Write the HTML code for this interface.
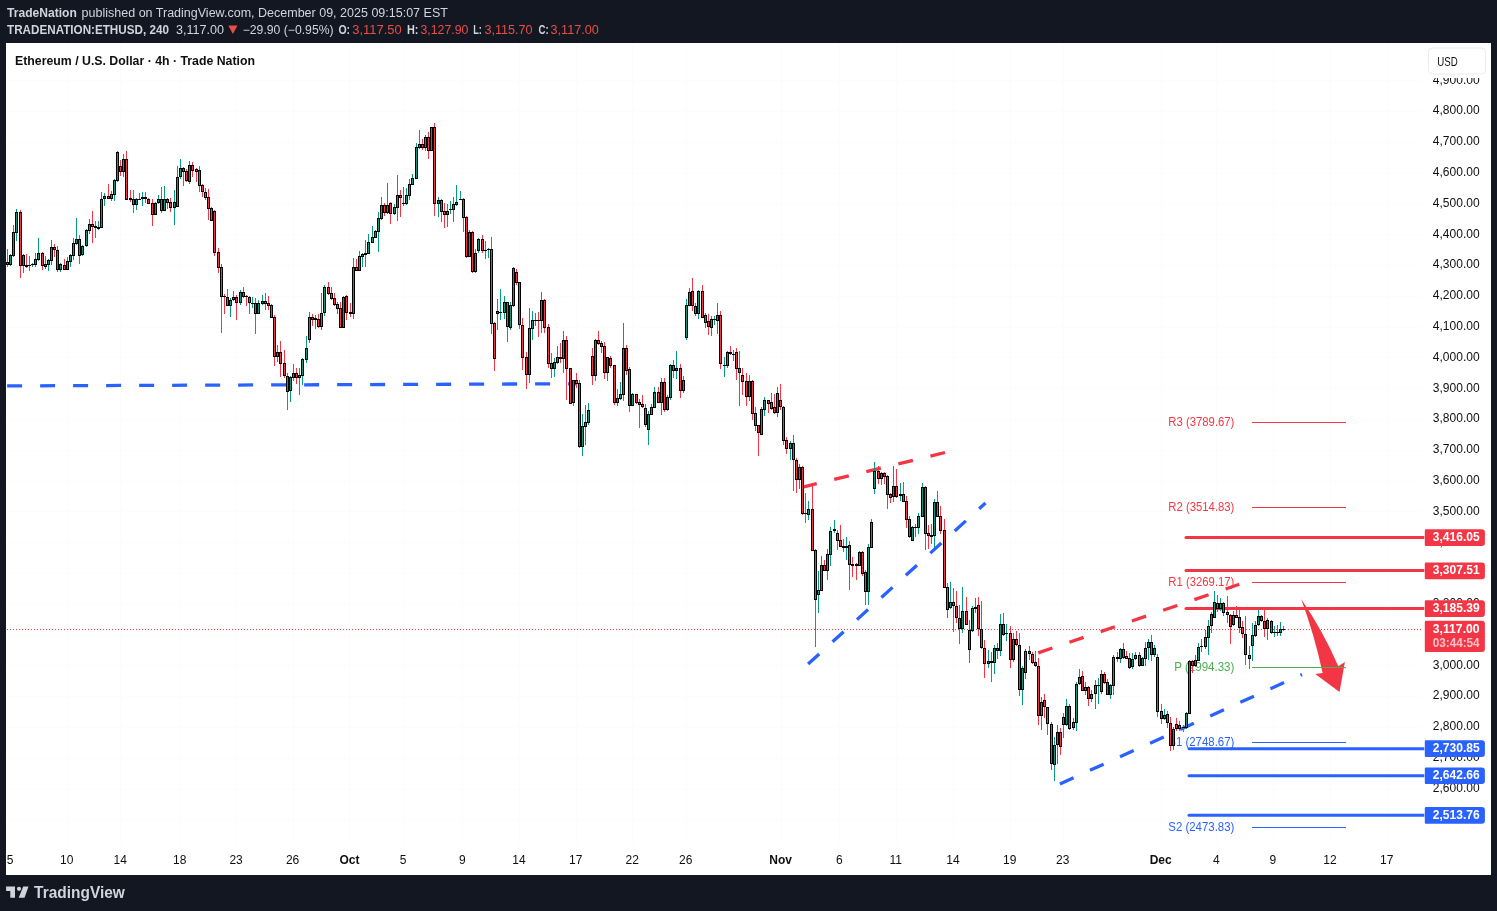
<!DOCTYPE html>
<html><head><meta charset="utf-8"><title>ETHUSD chart</title>
<style>
html,body{margin:0;padding:0;background:#131722;}
body{width:1497px;height:911px;overflow:hidden;position:relative;font-family:"Liberation Sans", Arial, sans-serif;}
svg{position:absolute;left:0;top:0;display:block;}
#root{will-change:transform;transform:translateZ(0);}
text{font-family:"Liberation Sans", Arial, sans-serif;}
</style></head><body>
<svg id="root" width="1497" height="911" viewBox="0 0 1497 911">
<rect x="0" y="0" width="1497" height="911" fill="#131722"/>
<rect x="6" y="43" width="1485" height="832" fill="#fff"/>
<svg x="6" y="43" width="1485" height="832" viewBox="6 43 1485 832" overflow="hidden">
<path d="M67 43v800M120 43v800M180 43v800M236 43v800M293 43v800M349 43v800M403 43v800M462 43v800M519 43v800M576 43v800M632 43v800M686 43v800M781 43v800M839 43v800M896 43v800M953 43v800M1010 43v800M1063 43v800M1161 43v800M1216 43v800M1273 43v800M1330 43v800M1387 43v800M6 819h1415M6 789h1415M6 758h1415M6 727h1415M6 696h1415M6 665h1415M6 635h1415M6 604h1415M6 573h1415M6 542h1415M6 511h1415M6 481h1415M6 450h1415M6 419h1415M6 388h1415M6 357h1415M6 327h1415M6 296h1415M6 265h1415M6 234h1415M6 203h1415M6 173h1415M6 142h1415M6 111h1415M6 80h1415" stroke="#fbfcfd" stroke-width="1" fill="none" shape-rendering="crispEdges"/><line x1="7" y1="629.5" x2="1423" y2="629.5" stroke="#f23645" stroke-width="1" stroke-dasharray="1 2"/><line x1="7.13" y1="385.9" x2="576" y2="383.76" stroke="#2962ff" stroke-width="3.3" stroke-dasharray="15 18" stroke-dashoffset="0"/><line x1="803.9" y1="486.8" x2="945" y2="452.5" stroke="#f23645" stroke-width="3.3" stroke-dasharray="15 18" stroke-dashoffset="1.8"/><line x1="808.1" y1="664" x2="985.5" y2="503" stroke="#2962ff" stroke-width="3.3" stroke-dasharray="15 18" stroke-dashoffset="0"/><line x1="1038.2" y1="652.9" x2="1239.3" y2="584.3" stroke="#f23645" stroke-width="3.3" stroke-dasharray="15 18" stroke-dashoffset="0"/><line x1="1059.9" y1="783.9" x2="1302" y2="674.5" stroke="#2962ff" stroke-width="3.3" stroke-dasharray="15 18" stroke-dashoffset="0"/><path d="M1186 536.00H1424.3V539.00H1186A1.5 1.5 0 0 1 1186 536.00Z" fill="#f23645"/><path d="M1186 568.90H1424.3V571.90H1186A1.5 1.5 0 0 1 1186 568.90Z" fill="#f23645"/><path d="M1186 606.90H1424.3V609.90H1186A1.5 1.5 0 0 1 1186 606.90Z" fill="#f23645"/><path d="M1189 747.30H1424.3V750.30H1189A1.5 1.5 0 0 1 1189 747.30Z" fill="#2962ff"/><path d="M1189 774.20H1424.3V777.20H1189A1.5 1.5 0 0 1 1189 774.20Z" fill="#2962ff"/><path d="M1189 813.70H1424.3V816.70H1189A1.5 1.5 0 0 1 1189 813.70Z" fill="#2962ff"/><path d="M1301.2 599 Q1323.8 632.2 1338.3 666.3 L1344.9 662 L1339.5 692 L1315.3 674.1 L1322.6 673 Q1314.7 635.9 1301.2 599Z" fill="#f23645"/><rect x="1252" y="422" width="94" height="1" fill="#f23645"/><text x="1168.3" y="426.4" font-size="12.5" font-weight="normal" fill="#f23645" text-anchor="start" textLength="66.1" lengthAdjust="spacingAndGlyphs">R3 (3789.67)</text><rect x="1252" y="507" width="94" height="1" fill="#f23645"/><text x="1168.3" y="511.4" font-size="12.5" font-weight="normal" fill="#f23645" text-anchor="start" textLength="66.1" lengthAdjust="spacingAndGlyphs">R2 (3514.83)</text><rect x="1252" y="582" width="94" height="1" fill="#f23645"/><text x="1168.3" y="586.4" font-size="12.5" font-weight="normal" fill="#f23645" text-anchor="start" textLength="66.1" lengthAdjust="spacingAndGlyphs">R1 (3269.17)</text><rect x="1252" y="667" width="94" height="1" fill="#4caf50"/><text x="1174.3" y="671.4" font-size="12.5" font-weight="normal" fill="#4caf50" text-anchor="start" textLength="60.1" lengthAdjust="spacingAndGlyphs">P (2994.33)</text><rect x="1252" y="742" width="94" height="1" fill="#2962ff"/><text x="1168.3" y="746.4" font-size="12.5" font-weight="normal" fill="#2962ff" text-anchor="start" textLength="66.1" lengthAdjust="spacingAndGlyphs">S1 (2748.67)</text><rect x="1252" y="827" width="94" height="1" fill="#2962ff"/><text x="1168.3" y="831.4" font-size="12.5" font-weight="normal" fill="#2962ff" text-anchor="start" textLength="66.1" lengthAdjust="spacingAndGlyphs">S2 (2473.83)</text><g shape-rendering="crispEdges"><path d="M10 254h1V266h-1zM13 225h1V257h-1zM16 209h1V241h-1zM23 254h1V273h-1zM32 263h1V267h-1zM35 253h1V267h-1zM38 238h1V261h-1zM45 256h1V269h-1zM48 259h1V271h-1zM51 240h1V265h-1zM60 263h1V272h-1zM67 257h1V270h-1zM70 254h1V267h-1zM73 238h1V260h-1zM76 218h1V245h-1zM82 245h1V256h-1zM86 229h1V247h-1zM89 219h1V234h-1zM98 221h1V230h-1zM101 192h1V228h-1zM104 193h1V206h-1zM111 191h1V201h-1zM114 179h1V201h-1zM117 151h1V182h-1zM123 154h1V177h-1zM136 198h1V210h-1zM139 193h1V200h-1zM142 192h1V206h-1zM155 202h1V215h-1zM158 195h1V204h-1zM164 186h1V211h-1zM174 190h1V225h-1zM177 166h1V207h-1zM180 159h1V179h-1zM189 161h1V184h-1zM230 298h1V317h-1zM233 291h1V301h-1zM240 290h1V305h-1zM252 297h1V308h-1zM258 300h1V314h-1zM262 295h1V305h-1zM277 345h1V362h-1zM290 376h1V402h-1zM293 364h1V381h-1zM299 368h1V395h-1zM302 358h1V385h-1zM306 336h1V363h-1zM309 312h1V343h-1zM315 315h1V329h-1zM321 293h1V330h-1zM324 285h1V316h-1zM343 296h1V328h-1zM353 258h1V319h-1zM359 251h1V271h-1zM362 253h1V267h-1zM365 240h1V267h-1zM368 234h1V254h-1zM372 226h1V243h-1zM375 230h1V238h-1zM378 212h1V252h-1zM381 197h1V220h-1zM387 183h1V214h-1zM394 204h1V215h-1zM397 175h1V221h-1zM403 187h1V206h-1zM406 188h1V205h-1zM409 179h1V200h-1zM412 174h1V185h-1zM416 143h1V179h-1zM419 130h1V149h-1zM425 135h1V151h-1zM431 127h1V151h-1zM438 197h1V217h-1zM447 204h1V227h-1zM450 201h1V214h-1zM453 197h1V222h-1zM456 185h1V206h-1zM460 191h1V200h-1zM469 230h1V257h-1zM475 249h1V273h-1zM478 238h1V253h-1zM485 241h1V259h-1zM488 248h1V258h-1zM500 289h1V320h-1zM504 296h1V319h-1zM510 302h1V330h-1zM513 267h1V307h-1zM529 308h1V383h-1zM532 311h1V340h-1zM535 313h1V326h-1zM541 292h1V333h-1zM554 358h1V377h-1zM557 346h1V364h-1zM563 331h1V373h-1zM573 380h1V406h-1zM582 414h1V456h-1zM585 405h1V445h-1zM588 403h1V425h-1zM595 339h1V381h-1zM607 357h1V381h-1zM617 389h1V406h-1zM620 382h1V400h-1zM623 323h1V401h-1zM632 393h1V406h-1zM648 411h1V445h-1zM651 404h1V415h-1zM654 387h1V408h-1zM661 378h1V415h-1zM667 395h1V411h-1zM670 364h1V400h-1zM676 351h1V379h-1zM683 376h1V393h-1zM686 299h1V340h-1zM689 288h1V306h-1zM698 290h1V319h-1zM711 316h1V336h-1zM714 316h1V325h-1zM717 303h1V334h-1zM724 357h1V377h-1zM727 351h1V368h-1zM733 350h1V361h-1zM749 375h1V401h-1zM761 407h1V435h-1zM764 397h1V416h-1zM777 387h1V417h-1zM790 441h1V460h-1zM799 464h1V489h-1zM808 501h1V520h-1zM818 571h1V613h-1zM821 556h1V591h-1zM827 549h1V580h-1zM830 527h1V566h-1zM834 520h1V533h-1zM846 537h1V560h-1zM859 551h1V566h-1zM868 544h1V605h-1zM871 519h1V548h-1zM874 462h1V494h-1zM881 472h1V485h-1zM893 466h1V502h-1zM900 483h1V501h-1zM912 526h1V541h-1zM915 524h1V537h-1zM918 513h1V534h-1zM922 483h1V517h-1zM931 524h1V544h-1zM934 499h1V548h-1zM950 582h1V609h-1zM962 587h1V633h-1zM969 620h1V663h-1zM972 606h1V632h-1zM975 598h1V613h-1zM988 650h1V668h-1zM994 645h1V674h-1zM1000 614h1V656h-1zM1006 624h1V641h-1zM1013 633h1V662h-1zM1022 666h1V705h-1zM1025 649h1V679h-1zM1041 697h1V730h-1zM1054 737h1V781h-1zM1057 725h1V764h-1zM1066 699h1V726h-1zM1073 718h1V730h-1zM1076 682h1V731h-1zM1079 669h1V685h-1zM1091 690h1V702h-1zM1095 680h1V709h-1zM1098 678h1V704h-1zM1101 670h1V694h-1zM1110 684h1V699h-1zM1113 655h1V695h-1zM1120 648h1V663h-1zM1132 653h1V669h-1zM1135 652h1V660h-1zM1142 657h1V666h-1zM1145 642h1V666h-1zM1148 639h1V660h-1zM1154 645h1V657h-1zM1164 709h1V720h-1zM1173 727h1V750h-1zM1186 712h1V729h-1zM1189 660h1V714h-1zM1195 655h1V667h-1zM1198 643h1V661h-1zM1201 639h1V652h-1zM1205 630h1V649h-1zM1208 620h1V655h-1zM1211 612h1V633h-1zM1214 591h1V618h-1zM1220 598h1V611h-1zM1233 611h1V626h-1zM1252 623h1V661h-1zM1255 621h1V637h-1zM1258 610h1V626h-1zM1267 618h1V640h-1zM1274 626h1V637h-1zM1277 625h1V636h-1zM1280 622h1V636h-1z" fill="#089981"/><path d="M7 249h1V267h-1zM20 210h1V278h-1zM26 254h1V268h-1zM29 256h1V271h-1zM42 252h1V270h-1zM54 244h1V257h-1zM57 246h1V272h-1zM64 259h1V270h-1zM79 235h1V264h-1zM92 211h1V243h-1zM95 221h1V238h-1zM108 184h1V199h-1zM120 160h1V176h-1zM126 151h1V200h-1zM130 190h1V202h-1zM133 190h1V213h-1zM145 192h1V203h-1zM148 198h1V204h-1zM152 199h1V226h-1zM161 187h1V213h-1zM167 198h1V209h-1zM170 198h1V212h-1zM183 167h1V186h-1zM186 169h1V182h-1zM192 162h1V177h-1zM196 168h1V182h-1zM199 166h1V192h-1zM202 184h1V197h-1zM205 188h1V200h-1zM208 189h1V220h-1zM211 207h1V221h-1zM214 210h1V256h-1zM218 248h1V273h-1zM221 264h1V333h-1zM224 294h1V314h-1zM227 289h1V306h-1zM236 295h1V320h-1zM243 287h1V298h-1zM246 295h1V306h-1zM249 296h1V314h-1zM255 298h1V334h-1zM265 293h1V310h-1zM268 296h1V310h-1zM271 304h1V318h-1zM274 315h1V366h-1zM280 341h1V377h-1zM284 350h1V378h-1zM287 373h1V410h-1zM296 368h1V384h-1zM312 314h1V326h-1zM318 314h1V328h-1zM328 282h1V295h-1zM331 287h1V300h-1zM334 293h1V306h-1zM337 302h1V314h-1zM340 302h1V328h-1zM346 295h1V320h-1zM350 303h1V317h-1zM356 259h1V271h-1zM384 203h1V216h-1zM390 202h1V224h-1zM400 190h1V217h-1zM422 139h1V150h-1zM428 132h1V159h-1zM434 123h1V216h-1zM441 199h1V222h-1zM444 203h1V228h-1zM463 198h1V232h-1zM466 216h1V258h-1zM472 231h1V273h-1zM482 235h1V253h-1zM491 237h1V334h-1zM494 322h1V371h-1zM497 299h1V330h-1zM507 302h1V342h-1zM516 269h1V285h-1zM519 282h1V329h-1zM522 318h1V370h-1zM526 352h1V389h-1zM538 312h1V337h-1zM544 299h1V333h-1zM548 324h1V368h-1zM551 353h1V378h-1zM560 343h1V363h-1zM566 336h1V400h-1zM570 368h1V404h-1zM576 373h1V388h-1zM579 380h1V448h-1zM592 348h1V385h-1zM598 331h1V345h-1zM601 341h1V353h-1zM604 342h1V379h-1zM610 356h1V368h-1zM614 365h1V405h-1zM626 345h1V375h-1zM629 367h1V412h-1zM636 394h1V404h-1zM639 399h1V428h-1zM642 395h1V408h-1zM645 404h1V427h-1zM658 387h1V403h-1zM664 378h1V412h-1zM673 360h1V378h-1zM680 364h1V398h-1zM692 278h1V311h-1zM695 303h1V316h-1zM702 285h1V318h-1zM705 313h1V328h-1zM708 314h1V335h-1zM720 311h1V369h-1zM730 346h1V355h-1zM736 348h1V380h-1zM739 351h1V406h-1zM742 368h1V395h-1zM746 373h1V406h-1zM752 380h1V420h-1zM755 407h1V431h-1zM758 425h1V456h-1zM768 400h1V413h-1zM771 393h1V410h-1zM774 394h1V414h-1zM780 384h1V410h-1zM783 406h1V445h-1zM786 437h1V454h-1zM793 435h1V491h-1zM796 458h1V493h-1zM802 466h1V515h-1zM805 493h1V523h-1zM812 485h1V551h-1zM815 549h1V647h-1zM824 560h1V571h-1zM837 530h1V550h-1zM840 525h1V547h-1zM843 539h1V552h-1zM849 541h1V590h-1zM852 557h1V577h-1zM856 563h1V580h-1zM862 551h1V576h-1zM865 570h1V605h-1zM878 466h1V484h-1zM884 472h1V484h-1zM887 475h1V509h-1zM890 493h1V503h-1zM896 469h1V498h-1zM903 482h1V502h-1zM906 496h1V528h-1zM909 516h1V538h-1zM925 486h1V550h-1zM928 525h1V549h-1zM937 491h1V517h-1zM940 506h1V534h-1zM944 519h1V588h-1zM947 583h1V618h-1zM953 588h1V632h-1zM956 591h1V623h-1zM959 605h1V644h-1zM966 597h1V625h-1zM978 597h1V636h-1zM981 601h1V649h-1zM984 640h1V678h-1zM991 652h1V682h-1zM997 643h1V659h-1zM1003 613h1V636h-1zM1010 626h1V668h-1zM1016 631h1V646h-1zM1019 633h1V696h-1zM1029 646h1V660h-1zM1032 652h1V664h-1zM1035 651h1V667h-1zM1038 658h1V725h-1zM1044 694h1V718h-1zM1047 707h1V735h-1zM1051 722h1V770h-1zM1060 728h1V755h-1zM1063 713h1V738h-1zM1069 704h1V730h-1zM1082 671h1V691h-1zM1085 682h1V695h-1zM1088 686h1V706h-1zM1104 672h1V684h-1zM1107 679h1V695h-1zM1117 652h1V662h-1zM1123 643h1V659h-1zM1126 651h1V659h-1zM1129 653h1V669h-1zM1139 652h1V667h-1zM1151 635h1V661h-1zM1157 654h1V717h-1zM1161 704h1V724h-1zM1167 711h1V728h-1zM1170 717h1V751h-1zM1176 718h1V731h-1zM1179 721h1V731h-1zM1183 725h1V732h-1zM1192 660h1V673h-1zM1217 595h1V612h-1zM1223 602h1V616h-1zM1227 596h1V623h-1zM1230 614h1V644h-1zM1236 606h1V618h-1zM1239 610h1V633h-1zM1242 621h1V638h-1zM1245 616h1V665h-1zM1249 646h1V669h-1zM1261 615h1V622h-1zM1264 610h1V637h-1zM1271 620h1V634h-1zM1283 626h1V631h-1z" fill="#f23645"/><path d="M6 262h3V265h-3zM9 255h3V265h-3zM12 232h3V256h-3zM15 212h3V233h-3zM19 212h3V266h-3zM22 255h3V266h-3zM25 265h3V267h-3zM28 265h3V266h-3zM31 264h3V265h-3zM34 259h3V265h-3zM37 253h3V260h-3zM41 253h3V266h-3zM44 264h3V267h-3zM47 260h3V265h-3zM50 247h3V261h-3zM53 247h3V250h-3zM56 250h3V270h-3zM59 264h3V270h-3zM63 265h3V270h-3zM66 261h3V270h-3zM69 255h3V262h-3zM72 243h3V256h-3zM75 239h3V244h-3zM78 239h3V256h-3zM81 246h3V255h-3zM85 230h3V246h-3zM88 224h3V231h-3zM91 224h3V227h-3zM94 226h3V228h-3zM97 227h3V229h-3zM100 199h3V228h-3zM103 196h3V199h-3zM107 196h3V199h-3zM110 194h3V199h-3zM113 180h3V195h-3zM116 152h3V181h-3zM119 166h3V172h-3zM122 159h3V172h-3zM125 159h3V200h-3zM129 198h3V200h-3zM132 199h3V205h-3zM135 199h3V205h-3zM138 199h3V200h-3zM141 197h3V199h-3zM144 197h3V199h-3zM147 199h3V204h-3zM151 203h3V215h-3zM154 203h3V215h-3zM157 199h3V203h-3zM160 199h3V211h-3zM163 199h3V211h-3zM166 199h3V203h-3zM169 202h3V208h-3zM173 202h3V208h-3zM176 177h3V207h-3zM179 168h3V177h-3zM182 168h3V172h-3zM185 171h3V181h-3zM188 165h3V182h-3zM191 165h3V171h-3zM195 169h3V172h-3zM198 170h3V186h-3zM201 185h3V192h-3zM204 192h3V198h-3zM207 197h3V209h-3zM210 208h3V221h-3zM213 211h3V253h-3zM217 252h3V268h-3zM220 267h3V297h-3zM223 296h3V297h-3zM226 297h3V306h-3zM229 300h3V306h-3zM232 297h3V300h-3zM235 297h3V303h-3zM239 292h3V303h-3zM242 292h3V297h-3zM245 296h3V297h-3zM248 297h3V303h-3zM251 303h3V304h-3zM254 303h3V314h-3zM257 303h3V314h-3zM261 301h3V304h-3zM264 301h3V304h-3zM267 303h3V306h-3zM270 305h3V318h-3zM273 317h3V357h-3zM276 352h3V357h-3zM279 352h3V364h-3zM283 363h3V376h-3zM286 376h3V392h-3zM289 377h3V391h-3zM292 373h3V378h-3zM295 373h3V378h-3zM298 375h3V378h-3zM301 359h3V376h-3zM305 348h3V360h-3zM308 317h3V340h-3zM311 317h3V320h-3zM314 318h3V320h-3zM317 319h3V327h-3zM320 313h3V327h-3zM323 287h3V313h-3zM327 287h3V294h-3zM330 293h3V299h-3zM333 298h3V305h-3zM336 304h3V309h-3zM339 308h3V328h-3zM342 297h3V328h-3zM345 296h3V313h-3zM349 312h3V314h-3zM352 267h3V314h-3zM355 267h3V271h-3zM358 256h3V271h-3zM361 254h3V257h-3zM364 253h3V255h-3zM367 242h3V254h-3zM371 237h3V243h-3zM374 231h3V238h-3zM377 218h3V232h-3zM380 205h3V219h-3zM383 205h3V213h-3zM386 205h3V213h-3zM389 203h3V214h-3zM393 207h3V214h-3zM396 195h3V208h-3zM399 195h3V198h-3zM402 203h3V204h-3zM405 195h3V204h-3zM408 184h3V196h-3zM411 178h3V185h-3zM415 147h3V179h-3zM418 144h3V148h-3zM421 144h3V148h-3zM424 137h3V148h-3zM427 137h3V151h-3zM430 127h3V151h-3zM433 127h3V204h-3zM437 200h3V204h-3zM440 200h3V212h-3zM443 211h3V215h-3zM446 211h3V215h-3zM449 209h3V210h-3zM452 204h3V210h-3zM455 202h3V205h-3zM459 199h3V200h-3zM462 199h3V218h-3zM465 217h3V257h-3zM468 232h3V257h-3zM471 232h3V272h-3zM474 253h3V272h-3zM477 239h3V251h-3zM481 239h3V251h-3zM484 250h3V251h-3zM487 249h3V250h-3zM490 249h3V324h-3zM493 323h3V359h-3zM496 311h3V314h-3zM499 312h3V313h-3zM503 302h3V313h-3zM506 302h3V327h-3zM509 305h3V328h-3zM512 268h3V306h-3zM515 272h3V283h-3zM518 282h3V325h-3zM521 325h3V358h-3zM525 357h3V375h-3zM528 328h3V375h-3zM531 320h3V329h-3zM534 320h3V321h-3zM537 320h3V321h-3zM540 300h3V321h-3zM543 300h3V328h-3zM547 327h3V364h-3zM550 363h3V369h-3zM553 362h3V369h-3zM556 357h3V363h-3zM559 357h3V359h-3zM562 340h3V359h-3zM565 340h3V369h-3zM569 368h3V404h-3zM572 380h3V403h-3zM575 380h3V384h-3zM578 383h3V447h-3zM581 426h3V447h-3zM584 422h3V427h-3zM587 410h3V423h-3zM591 356h3V376h-3zM594 340h3V376h-3zM597 340h3V344h-3zM600 343h3V347h-3zM603 346h3V373h-3zM606 357h3V373h-3zM609 358h3V366h-3zM613 365h3V403h-3zM616 398h3V403h-3zM619 394h3V399h-3zM622 348h3V395h-3zM625 348h3V371h-3zM628 369h3V406h-3zM631 394h3V406h-3zM635 394h3V403h-3zM638 402h3V405h-3zM641 404h3V407h-3zM644 408h3V425h-3zM647 414h3V430h-3zM650 407h3V415h-3zM653 392h3V408h-3zM657 392h3V403h-3zM660 382h3V403h-3zM663 382h3V410h-3zM666 397h3V410h-3zM669 365h3V398h-3zM672 365h3V371h-3zM675 368h3V371h-3zM679 368h3V391h-3zM682 380h3V391h-3zM685 305h3V338h-3zM688 292h3V306h-3zM691 291h3V306h-3zM694 306h3V314h-3zM697 291h3V314h-3zM701 291h3V318h-3zM704 315h3V323h-3zM707 321h3V327h-3zM710 319h3V328h-3zM713 319h3V320h-3zM716 315h3V321h-3zM719 315h3V364h-3zM723 365h3V366h-3zM726 352h3V366h-3zM729 352h3V354h-3zM732 354h3V355h-3zM735 352h3V369h-3zM738 368h3V373h-3zM741 375h3V382h-3zM745 381h3V397h-3zM748 381h3V397h-3zM751 381h3V414h-3zM754 413h3V426h-3zM757 425h3V433h-3zM760 409h3V435h-3zM763 400h3V410h-3zM767 400h3V404h-3zM770 402h3V409h-3zM773 407h3V413h-3zM776 393h3V413h-3zM779 400h3V407h-3zM782 407h3V441h-3zM785 440h3V449h-3zM789 443h3V449h-3zM792 443h3V460h-3zM795 460h3V480h-3zM798 467h3V480h-3zM801 467h3V514h-3zM804 513h3V514h-3zM807 509h3V515h-3zM811 509h3V551h-3zM814 550h3V600h-3zM817 590h3V595h-3zM820 565h3V591h-3zM823 565h3V571h-3zM826 554h3V571h-3zM829 531h3V555h-3zM833 529h3V531h-3zM836 533h3V541h-3zM839 540h3V547h-3zM842 546h3V548h-3zM845 546h3V548h-3zM848 545h3V565h-3zM851 564h3V566h-3zM855 564h3V566h-3zM858 552h3V566h-3zM861 552h3V574h-3zM864 572h3V592h-3zM867 547h3V592h-3zM870 522h3V548h-3zM873 471h3V489h-3zM877 471h3V479h-3zM880 473h3V479h-3zM883 473h3V477h-3zM886 476h3V495h-3zM889 494h3V498h-3zM892 486h3V497h-3zM895 486h3V497h-3zM899 494h3V496h-3zM902 494h3V502h-3zM905 501h3V520h-3zM908 519h3V537h-3zM911 527h3V541h-3zM914 527h3V528h-3zM917 516h3V528h-3zM921 487h3V517h-3zM924 487h3V534h-3zM927 533h3V536h-3zM930 535h3V537h-3zM933 502h3V536h-3zM936 502h3V517h-3zM939 516h3V531h-3zM943 530h3V588h-3zM946 587h3V610h-3zM949 602h3V608h-3zM952 602h3V606h-3zM955 606h3V618h-3zM958 618h3V629h-3zM961 611h3V629h-3zM965 611h3V625h-3zM968 630h3V650h-3zM971 608h3V631h-3zM974 607h3V609h-3zM977 605h3V629h-3zM980 629h3V648h-3zM983 648h3V664h-3zM987 661h3V664h-3zM990 661h3V663h-3zM993 648h3V663h-3zM996 648h3V651h-3zM999 624h3V651h-3zM1002 624h3V635h-3zM1005 633h3V634h-3zM1009 633h3V660h-3zM1012 639h3V660h-3zM1015 639h3V645h-3zM1018 645h3V690h-3zM1021 668h3V690h-3zM1024 651h3V673h-3zM1028 651h3V654h-3zM1031 654h3V663h-3zM1034 662h3V666h-3zM1037 666h3V716h-3zM1040 702h3V716h-3zM1043 700h3V707h-3zM1046 707h3V724h-3zM1050 724h3V764h-3zM1053 745h3V765h-3zM1056 732h3V745h-3zM1059 732h3V747h-3zM1062 717h3V725h-3zM1065 706h3V725h-3zM1068 706h3V729h-3zM1072 722h3V728h-3zM1075 684h3V723h-3zM1078 677h3V684h-3zM1081 676h3V691h-3zM1084 687h3V691h-3zM1087 687h3V699h-3zM1090 694h3V699h-3zM1094 685h3V694h-3zM1097 685h3V686h-3zM1100 674h3V692h-3zM1103 674h3V683h-3zM1106 682h3V695h-3zM1109 685h3V695h-3zM1112 657h3V686h-3zM1116 657h3V659h-3zM1119 649h3V659h-3zM1122 649h3V658h-3zM1125 656h3V659h-3zM1128 658h3V668h-3zM1131 659h3V667h-3zM1134 655h3V659h-3zM1138 655h3V666h-3zM1141 658h3V666h-3zM1144 648h3V659h-3zM1147 642h3V648h-3zM1150 642h3V655h-3zM1153 648h3V655h-3zM1156 657h3V712h-3zM1160 711h3V719h-3zM1163 715h3V719h-3zM1166 714h3V723h-3zM1169 723h3V746h-3zM1172 729h3V746h-3zM1175 724h3V729h-3zM1178 725h3V729h-3zM1182 727h3V728h-3zM1185 713h3V728h-3zM1188 661h3V714h-3zM1191 661h3V666h-3zM1194 660h3V666h-3zM1197 647h3V661h-3zM1200 646h3V647h-3zM1204 637h3V647h-3zM1207 626h3V638h-3zM1210 614h3V626h-3zM1213 602h3V618h-3zM1216 603h3V609h-3zM1219 603h3V609h-3zM1222 603h3V613h-3zM1226 612h3V615h-3zM1229 615h3V627h-3zM1232 615h3V625h-3zM1235 615h3V618h-3zM1238 617h3V628h-3zM1241 627h3V634h-3zM1244 634h3V655h-3zM1248 655h3V659h-3zM1251 635h3V646h-3zM1254 625h3V636h-3zM1257 616h3V625h-3zM1260 616h3V621h-3zM1263 621h3V629h-3zM1266 620h3V629h-3zM1270 621h3V633h-3zM1273 632h3V633h-3zM1276 632h3V633h-3zM1279 629h3V633h-3zM1282 629h3V630h-3z" fill="#000"/><path d="M10 256h1V264h-1zM13 233h1V255h-1zM16 213h1V232h-1zM23 256h1V265h-1zM35 260h1V264h-1zM38 254h1V259h-1zM45 265h1V266h-1zM48 261h1V264h-1zM51 248h1V260h-1zM60 265h1V269h-1zM67 262h1V269h-1zM70 256h1V261h-1zM73 244h1V255h-1zM76 240h1V243h-1zM82 247h1V254h-1zM86 231h1V245h-1zM89 225h1V230h-1zM101 200h1V227h-1zM104 197h1V198h-1zM111 195h1V198h-1zM114 181h1V194h-1zM117 153h1V180h-1zM123 160h1V171h-1zM136 200h1V204h-1zM155 204h1V214h-1zM158 200h1V202h-1zM164 200h1V210h-1zM174 203h1V207h-1zM177 178h1V206h-1zM180 169h1V176h-1zM189 166h1V181h-1zM230 301h1V305h-1zM233 298h1V299h-1zM240 293h1V302h-1zM258 304h1V313h-1zM262 302h1V303h-1zM277 353h1V356h-1zM290 378h1V390h-1zM293 374h1V377h-1zM299 376h1V377h-1zM302 360h1V375h-1zM306 349h1V359h-1zM309 318h1V339h-1zM321 314h1V326h-1zM324 288h1V312h-1zM343 298h1V327h-1zM353 268h1V313h-1zM359 257h1V270h-1zM362 255h1V256h-1zM368 243h1V253h-1zM372 238h1V242h-1zM375 232h1V237h-1zM378 219h1V231h-1zM381 206h1V218h-1zM387 206h1V212h-1zM394 208h1V213h-1zM397 196h1V207h-1zM406 196h1V203h-1zM409 185h1V195h-1zM412 179h1V184h-1zM416 148h1V178h-1zM419 145h1V147h-1zM425 138h1V147h-1zM431 128h1V150h-1zM438 201h1V203h-1zM447 212h1V214h-1zM453 205h1V209h-1zM456 203h1V204h-1zM469 233h1V256h-1zM475 254h1V271h-1zM478 240h1V250h-1zM504 303h1V312h-1zM510 306h1V327h-1zM513 269h1V305h-1zM529 329h1V374h-1zM532 321h1V328h-1zM541 301h1V320h-1zM554 363h1V368h-1zM557 358h1V362h-1zM563 341h1V358h-1zM573 381h1V402h-1zM582 427h1V446h-1zM585 423h1V426h-1zM588 411h1V422h-1zM595 341h1V375h-1zM607 358h1V372h-1zM617 399h1V402h-1zM620 395h1V398h-1zM623 349h1V394h-1zM632 395h1V405h-1zM648 415h1V429h-1zM651 408h1V414h-1zM654 393h1V407h-1zM661 383h1V402h-1zM667 398h1V409h-1zM670 366h1V397h-1zM676 369h1V370h-1zM683 381h1V390h-1zM686 306h1V337h-1zM689 293h1V305h-1zM698 292h1V313h-1zM711 320h1V327h-1zM717 316h1V320h-1zM727 353h1V365h-1zM749 382h1V396h-1zM761 410h1V434h-1zM764 401h1V409h-1zM777 394h1V412h-1zM790 444h1V448h-1zM799 468h1V479h-1zM808 510h1V514h-1zM818 591h1V594h-1zM821 566h1V590h-1zM827 555h1V570h-1zM830 532h1V554h-1zM859 553h1V565h-1zM868 548h1V591h-1zM871 523h1V547h-1zM874 472h1V488h-1zM881 474h1V478h-1zM893 487h1V496h-1zM912 528h1V540h-1zM918 517h1V527h-1zM922 488h1V516h-1zM934 503h1V535h-1zM950 603h1V607h-1zM962 612h1V628h-1zM969 631h1V649h-1zM972 609h1V630h-1zM988 662h1V663h-1zM994 649h1V662h-1zM1000 625h1V650h-1zM1013 640h1V659h-1zM1022 669h1V689h-1zM1025 652h1V672h-1zM1041 703h1V715h-1zM1054 746h1V764h-1zM1057 733h1V744h-1zM1066 707h1V724h-1zM1073 723h1V727h-1zM1076 685h1V722h-1zM1079 678h1V683h-1zM1091 695h1V698h-1zM1095 686h1V693h-1zM1101 675h1V691h-1zM1110 686h1V694h-1zM1113 658h1V685h-1zM1120 650h1V658h-1zM1132 660h1V666h-1zM1135 656h1V658h-1zM1142 659h1V665h-1zM1145 649h1V658h-1zM1148 643h1V647h-1zM1154 649h1V654h-1zM1164 716h1V718h-1zM1173 730h1V745h-1zM1186 714h1V727h-1zM1189 662h1V713h-1zM1195 661h1V665h-1zM1198 648h1V660h-1zM1205 638h1V646h-1zM1208 627h1V637h-1zM1211 615h1V625h-1zM1214 603h1V617h-1zM1220 604h1V608h-1zM1233 616h1V624h-1zM1252 636h1V645h-1zM1255 626h1V635h-1zM1258 617h1V624h-1zM1267 621h1V628h-1zM1280 630h1V632h-1z" fill="#089981"/><path d="M7 263h1V264h-1zM20 213h1V265h-1zM42 254h1V265h-1zM54 248h1V249h-1zM57 251h1V269h-1zM64 266h1V269h-1zM79 240h1V255h-1zM92 225h1V226h-1zM108 197h1V198h-1zM120 167h1V171h-1zM126 160h1V199h-1zM133 200h1V204h-1zM148 200h1V203h-1zM152 204h1V214h-1zM161 200h1V210h-1zM167 200h1V202h-1zM170 203h1V207h-1zM183 169h1V171h-1zM186 172h1V180h-1zM192 166h1V170h-1zM196 170h1V171h-1zM199 171h1V185h-1zM202 186h1V191h-1zM205 193h1V197h-1zM208 198h1V208h-1zM211 209h1V220h-1zM214 212h1V252h-1zM218 253h1V267h-1zM221 268h1V296h-1zM227 298h1V305h-1zM236 298h1V302h-1zM243 293h1V296h-1zM249 298h1V302h-1zM255 304h1V313h-1zM265 302h1V303h-1zM268 304h1V305h-1zM271 306h1V317h-1zM274 318h1V356h-1zM280 353h1V363h-1zM284 364h1V375h-1zM287 377h1V391h-1zM296 374h1V377h-1zM312 318h1V319h-1zM318 320h1V326h-1zM328 288h1V293h-1zM331 294h1V298h-1zM334 299h1V304h-1zM337 305h1V308h-1zM340 309h1V327h-1zM346 297h1V312h-1zM356 268h1V270h-1zM384 206h1V212h-1zM390 204h1V213h-1zM400 196h1V197h-1zM422 145h1V147h-1zM428 138h1V150h-1zM434 128h1V203h-1zM441 201h1V211h-1zM444 212h1V214h-1zM463 200h1V217h-1zM466 218h1V256h-1zM472 233h1V271h-1zM482 240h1V250h-1zM491 250h1V323h-1zM494 324h1V358h-1zM497 312h1V313h-1zM507 303h1V326h-1zM516 273h1V282h-1zM519 283h1V324h-1zM522 326h1V357h-1zM526 358h1V374h-1zM544 301h1V327h-1zM548 328h1V363h-1zM551 364h1V368h-1zM566 341h1V368h-1zM570 369h1V403h-1zM576 381h1V383h-1zM579 384h1V446h-1zM592 357h1V375h-1zM598 341h1V343h-1zM601 344h1V346h-1zM604 347h1V372h-1zM610 359h1V365h-1zM614 366h1V402h-1zM626 349h1V370h-1zM629 370h1V405h-1zM636 395h1V402h-1zM639 403h1V404h-1zM642 405h1V406h-1zM645 409h1V424h-1zM658 393h1V402h-1zM664 383h1V409h-1zM673 366h1V370h-1zM680 369h1V390h-1zM692 292h1V305h-1zM695 307h1V313h-1zM702 292h1V317h-1zM705 316h1V322h-1zM708 322h1V326h-1zM720 316h1V363h-1zM736 353h1V368h-1zM739 369h1V372h-1zM742 376h1V381h-1zM746 382h1V396h-1zM752 382h1V413h-1zM755 414h1V425h-1zM758 426h1V432h-1zM768 401h1V403h-1zM771 403h1V408h-1zM774 408h1V412h-1zM780 401h1V406h-1zM783 408h1V440h-1zM786 441h1V448h-1zM793 444h1V459h-1zM796 461h1V479h-1zM802 468h1V513h-1zM812 510h1V550h-1zM815 551h1V599h-1zM824 566h1V570h-1zM837 534h1V540h-1zM840 541h1V546h-1zM849 546h1V564h-1zM862 553h1V573h-1zM865 573h1V591h-1zM878 472h1V478h-1zM884 474h1V476h-1zM887 477h1V494h-1zM890 495h1V497h-1zM896 487h1V496h-1zM903 495h1V501h-1zM906 502h1V519h-1zM909 520h1V536h-1zM925 488h1V533h-1zM928 534h1V535h-1zM937 503h1V516h-1zM940 517h1V530h-1zM944 531h1V587h-1zM947 588h1V609h-1zM953 603h1V605h-1zM956 607h1V617h-1zM959 619h1V628h-1zM966 612h1V624h-1zM978 606h1V628h-1zM981 630h1V647h-1zM984 649h1V663h-1zM997 649h1V650h-1zM1003 625h1V634h-1zM1010 634h1V659h-1zM1016 640h1V644h-1zM1019 646h1V689h-1zM1029 652h1V653h-1zM1032 655h1V662h-1zM1035 663h1V665h-1zM1038 667h1V715h-1zM1044 701h1V706h-1zM1047 708h1V723h-1zM1051 725h1V763h-1zM1060 733h1V746h-1zM1063 718h1V724h-1zM1069 707h1V728h-1zM1082 677h1V690h-1zM1085 688h1V690h-1zM1088 688h1V698h-1zM1104 675h1V682h-1zM1107 683h1V694h-1zM1123 650h1V657h-1zM1126 657h1V658h-1zM1129 659h1V667h-1zM1139 656h1V665h-1zM1151 643h1V654h-1zM1157 658h1V711h-1zM1161 712h1V718h-1zM1167 715h1V722h-1zM1170 724h1V745h-1zM1176 725h1V728h-1zM1179 726h1V728h-1zM1192 662h1V665h-1zM1217 604h1V608h-1zM1223 604h1V612h-1zM1227 613h1V614h-1zM1230 616h1V626h-1zM1236 616h1V617h-1zM1239 618h1V627h-1zM1242 628h1V633h-1zM1245 635h1V654h-1zM1249 656h1V658h-1zM1261 617h1V620h-1zM1264 622h1V628h-1zM1271 622h1V632h-1z" fill="#f23645"/></g><text x="1432.8" y="791.9" font-size="12" font-weight="normal" fill="#0f0f0f" text-anchor="start" textLength="46.8" lengthAdjust="spacingAndGlyphs">2,600.00</text><text x="1432.8" y="761.1" font-size="12" font-weight="normal" fill="#0f0f0f" text-anchor="start" textLength="46.8" lengthAdjust="spacingAndGlyphs">2,700.00</text><text x="1432.8" y="730.3" font-size="12" font-weight="normal" fill="#0f0f0f" text-anchor="start" textLength="46.8" lengthAdjust="spacingAndGlyphs">2,800.00</text><text x="1432.8" y="698.9" font-size="12" font-weight="normal" fill="#0f0f0f" text-anchor="start" textLength="46.8" lengthAdjust="spacingAndGlyphs">2,900.00</text><text x="1432.8" y="668.8" font-size="12" font-weight="normal" fill="#0f0f0f" text-anchor="start" textLength="46.8" lengthAdjust="spacingAndGlyphs">3,000.00</text><text x="1432.8" y="637.9" font-size="12" font-weight="normal" fill="#0f0f0f" text-anchor="start" textLength="46.8" lengthAdjust="spacingAndGlyphs">3,100.00</text><text x="1432.8" y="607.1" font-size="12" font-weight="normal" fill="#0f0f0f" text-anchor="start" textLength="46.8" lengthAdjust="spacingAndGlyphs">3,200.00</text><text x="1432.8" y="576.3" font-size="12" font-weight="normal" fill="#0f0f0f" text-anchor="start" textLength="46.8" lengthAdjust="spacingAndGlyphs">3,300.00</text><text x="1432.8" y="545.5" font-size="12" font-weight="normal" fill="#0f0f0f" text-anchor="start" textLength="46.8" lengthAdjust="spacingAndGlyphs">3,400.00</text><text x="1432.8" y="514.8" font-size="12" font-weight="normal" fill="#0f0f0f" text-anchor="start" textLength="46.8" lengthAdjust="spacingAndGlyphs">3,500.00</text><text x="1432.8" y="483.9" font-size="12" font-weight="normal" fill="#0f0f0f" text-anchor="start" textLength="46.8" lengthAdjust="spacingAndGlyphs">3,600.00</text><text x="1432.8" y="453.2" font-size="12" font-weight="normal" fill="#0f0f0f" text-anchor="start" textLength="46.8" lengthAdjust="spacingAndGlyphs">3,700.00</text><text x="1432.8" y="422.4" font-size="12" font-weight="normal" fill="#0f0f0f" text-anchor="start" textLength="46.8" lengthAdjust="spacingAndGlyphs">3,800.00</text><text x="1432.8" y="391.6" font-size="12" font-weight="normal" fill="#0f0f0f" text-anchor="start" textLength="46.8" lengthAdjust="spacingAndGlyphs">3,900.00</text><text x="1432.8" y="360.8" font-size="12" font-weight="normal" fill="#0f0f0f" text-anchor="start" textLength="46.8" lengthAdjust="spacingAndGlyphs">4,000.00</text><text x="1432.8" y="329.9" font-size="12" font-weight="normal" fill="#0f0f0f" text-anchor="start" textLength="46.8" lengthAdjust="spacingAndGlyphs">4,100.00</text><text x="1432.8" y="299.1" font-size="12" font-weight="normal" fill="#0f0f0f" text-anchor="start" textLength="46.8" lengthAdjust="spacingAndGlyphs">4,200.00</text><text x="1432.8" y="268.3" font-size="12" font-weight="normal" fill="#0f0f0f" text-anchor="start" textLength="46.8" lengthAdjust="spacingAndGlyphs">4,300.00</text><text x="1432.8" y="237.6" font-size="12" font-weight="normal" fill="#0f0f0f" text-anchor="start" textLength="46.8" lengthAdjust="spacingAndGlyphs">4,400.00</text><text x="1432.8" y="206.8" font-size="12" font-weight="normal" fill="#0f0f0f" text-anchor="start" textLength="46.8" lengthAdjust="spacingAndGlyphs">4,500.00</text><text x="1432.8" y="175.9" font-size="12" font-weight="normal" fill="#0f0f0f" text-anchor="start" textLength="46.8" lengthAdjust="spacingAndGlyphs">4,600.00</text><text x="1432.8" y="145.2" font-size="12" font-weight="normal" fill="#0f0f0f" text-anchor="start" textLength="46.8" lengthAdjust="spacingAndGlyphs">4,700.00</text><text x="1432.8" y="114.3" font-size="12" font-weight="normal" fill="#0f0f0f" text-anchor="start" textLength="46.8" lengthAdjust="spacingAndGlyphs">4,800.00</text><text x="1432.8" y="83.5" font-size="12" font-weight="normal" fill="#0f0f0f" text-anchor="start" textLength="46.8" lengthAdjust="spacingAndGlyphs">4,900.00</text><rect x="1424" y="43" width="67" height="35" fill="#fff"/><rect x="1428.5" y="48" width="57" height="26" rx="4" fill="#fff" stroke="#ebebee" stroke-width="1"/><text x="1437.3" y="65.9" font-size="12.2" font-weight="normal" fill="#0f0f0f" text-anchor="start" textLength="20.4" lengthAdjust="spacingAndGlyphs">USD</text><path d="M1425.8 529.2H1481.9a3 3 0 0 1 3 3V542.9a3 3 0 0 1 -3 3H1425.8a1 1 0 0 1 -1 -1V530.2a1 1 0 0 1 1 -1z" fill="#f23645"/><text x="1432.8" y="540.7" font-size="12" font-weight="bold" fill="#fff" text-anchor="start" textLength="46.8" lengthAdjust="spacingAndGlyphs">3,416.05</text><path d="M1425.8 562.6H1481.9a3 3 0 0 1 3 3V576.3a3 3 0 0 1 -3 3H1425.8a1 1 0 0 1 -1 -1V563.6a1 1 0 0 1 1 -1z" fill="#f23645"/><text x="1432.8" y="574.1" font-size="12" font-weight="bold" fill="#fff" text-anchor="start" textLength="46.8" lengthAdjust="spacingAndGlyphs">3,307.51</text><path d="M1425.8 600.2H1481.9a3 3 0 0 1 3 3V613.9a3 3 0 0 1 -3 3H1425.8a1 1 0 0 1 -1 -1V601.2a1 1 0 0 1 1 -1z" fill="#f23645"/><text x="1432.8" y="611.7" font-size="12" font-weight="bold" fill="#fff" text-anchor="start" textLength="46.8" lengthAdjust="spacingAndGlyphs">3,185.39</text><path d="M1425.8 740.2H1481.9a3 3 0 0 1 3 3V753.9a3 3 0 0 1 -3 3H1425.8a1 1 0 0 1 -1 -1V741.2a1 1 0 0 1 1 -1z" fill="#2962ff"/><text x="1432.8" y="751.7" font-size="12" font-weight="bold" fill="#fff" text-anchor="start" textLength="46.8" lengthAdjust="spacingAndGlyphs">2,730.85</text><path d="M1425.8 767.4H1481.9a3 3 0 0 1 3 3V781.1a3 3 0 0 1 -3 3H1425.8a1 1 0 0 1 -1 -1V768.4a1 1 0 0 1 1 -1z" fill="#2962ff"/><text x="1432.8" y="778.9" font-size="12" font-weight="bold" fill="#fff" text-anchor="start" textLength="46.8" lengthAdjust="spacingAndGlyphs">2,642.66</text><path d="M1425.8 807.1H1481.9a3 3 0 0 1 3 3V820.8a3 3 0 0 1 -3 3H1425.8a1 1 0 0 1 -1 -1V808.1a1 1 0 0 1 1 -1z" fill="#2962ff"/><text x="1432.8" y="818.6" font-size="12" font-weight="bold" fill="#fff" text-anchor="start" textLength="46.8" lengthAdjust="spacingAndGlyphs">2,513.76</text><path d="M1425.8 620.8H1481.9a3 3 0 0 1 3 3V649a3 3 0 0 1 -3 3H1425.8a1 1 0 0 1 -1 -1V621.8a1 1 0 0 1 1 -1z" fill="#f23645"/><text x="1432.8" y="632.7" font-size="12" font-weight="bold" fill="#fff" text-anchor="start" textLength="46.8" lengthAdjust="spacingAndGlyphs">3,117.00</text><text x="1432.8" y="646.8" font-size="12" font-weight="bold" fill="#fac3c8" text-anchor="start" textLength="46.8" lengthAdjust="spacingAndGlyphs">03:44:54</text><text x="10.0" y="864.0" font-size="12" font-weight="normal" fill="#0f0f0f" text-anchor="middle">5</text><text x="66.8" y="864.0" font-size="12" font-weight="normal" fill="#0f0f0f" text-anchor="middle">10</text><text x="120.2" y="864.0" font-size="12" font-weight="normal" fill="#0f0f0f" text-anchor="middle">14</text><text x="179.7" y="864.0" font-size="12" font-weight="normal" fill="#0f0f0f" text-anchor="middle">18</text><text x="236.1" y="864.0" font-size="12" font-weight="normal" fill="#0f0f0f" text-anchor="middle">23</text><text x="292.6" y="864.0" font-size="12" font-weight="normal" fill="#0f0f0f" text-anchor="middle">26</text><text x="349.4" y="864.0" font-size="12" font-weight="bold" fill="#0f0f0f" text-anchor="middle">Oct</text><text x="403.1" y="864.0" font-size="12" font-weight="normal" fill="#0f0f0f" text-anchor="middle">5</text><text x="462.3" y="864.0" font-size="12" font-weight="normal" fill="#0f0f0f" text-anchor="middle">9</text><text x="519.0" y="864.0" font-size="12" font-weight="normal" fill="#0f0f0f" text-anchor="middle">14</text><text x="575.8" y="864.0" font-size="12" font-weight="normal" fill="#0f0f0f" text-anchor="middle">17</text><text x="632.3" y="864.0" font-size="12" font-weight="normal" fill="#0f0f0f" text-anchor="middle">22</text><text x="685.7" y="864.0" font-size="12" font-weight="normal" fill="#0f0f0f" text-anchor="middle">26</text><text x="780.6" y="864.0" font-size="12" font-weight="bold" fill="#0f0f0f" text-anchor="middle">Nov</text><text x="839.3" y="864.0" font-size="12" font-weight="normal" fill="#0f0f0f" text-anchor="middle">6</text><text x="895.8" y="864.0" font-size="12" font-weight="normal" fill="#0f0f0f" text-anchor="middle">11</text><text x="952.9" y="864.0" font-size="12" font-weight="normal" fill="#0f0f0f" text-anchor="middle">14</text><text x="1009.7" y="864.0" font-size="12" font-weight="normal" fill="#0f0f0f" text-anchor="middle">19</text><text x="1062.8" y="864.0" font-size="12" font-weight="normal" fill="#0f0f0f" text-anchor="middle">23</text><text x="1160.7" y="864.0" font-size="12" font-weight="bold" fill="#0f0f0f" text-anchor="middle">Dec</text><text x="1216.4" y="864.0" font-size="12" font-weight="normal" fill="#0f0f0f" text-anchor="middle">4</text><text x="1272.9" y="864.0" font-size="12" font-weight="normal" fill="#0f0f0f" text-anchor="middle">9</text><text x="1330.0" y="864.0" font-size="12" font-weight="normal" fill="#0f0f0f" text-anchor="middle">12</text><text x="1386.8" y="864.0" font-size="12" font-weight="normal" fill="#0f0f0f" text-anchor="middle">17</text><text x="15.0" y="64.5" font-size="13" font-weight="bold" fill="#0f0f0f" text-anchor="start" textLength="240.0" lengthAdjust="spacingAndGlyphs">Ethereum / U.S. Dollar · 4h · Trade Nation</text>
</svg>
<text x="7.0" y="17.0" font-size="12" font-weight="bold" fill="#d1d4dc" text-anchor="start" textLength="69.8" lengthAdjust="spacingAndGlyphs">TradeNation</text><text x="81.6" y="17.0" font-size="12" font-weight="normal" fill="#d1d4dc" text-anchor="start" textLength="366.3" lengthAdjust="spacingAndGlyphs">published on TradingView.com, December 09, 2025 09:15:07 EST</text><text x="7.0" y="33.7" font-size="12" font-weight="bold" fill="#d1d4dc" text-anchor="start" textLength="161.9" lengthAdjust="spacingAndGlyphs">TRADENATION:ETHUSD, 240</text><text x="176.0" y="33.7" font-size="12" font-weight="normal" fill="#d1d4dc" text-anchor="start" textLength="48.0" lengthAdjust="spacingAndGlyphs">3,117.00</text><path d="M228.3 25.6h9.2l-4.6 8.4z" fill="#ea4d46"/><text x="242.7" y="33.7" font-size="12" font-weight="normal" fill="#d1d4dc" text-anchor="start" textLength="90.9" lengthAdjust="spacingAndGlyphs">−29.90 (−0.95%)</text><text x="338.4" y="33.7" font-size="12" font-weight="bold" fill="#d1d4dc" text-anchor="start" textLength="11.7" lengthAdjust="spacingAndGlyphs">O:</text><text x="352.3" y="33.7" font-size="12" font-weight="normal" fill="#ea4d46" text-anchor="start" textLength="49.4" lengthAdjust="spacingAndGlyphs">3,117.50</text><text x="407.0" y="33.7" font-size="12" font-weight="bold" fill="#d1d4dc" text-anchor="start" textLength="11.5" lengthAdjust="spacingAndGlyphs">H:</text><text x="420.4" y="33.7" font-size="12" font-weight="normal" fill="#ea4d46" text-anchor="start" textLength="48.1" lengthAdjust="spacingAndGlyphs">3,127.90</text><text x="473.3" y="33.7" font-size="12" font-weight="bold" fill="#d1d4dc" text-anchor="start" textLength="8.6" lengthAdjust="spacingAndGlyphs">L:</text><text x="484.5" y="33.7" font-size="12" font-weight="normal" fill="#ea4d46" text-anchor="start" textLength="48.1" lengthAdjust="spacingAndGlyphs">3,115.70</text><text x="538.5" y="33.7" font-size="12" font-weight="bold" fill="#d1d4dc" text-anchor="start" textLength="10.2" lengthAdjust="spacingAndGlyphs">C:</text><text x="550.5" y="33.7" font-size="12" font-weight="normal" fill="#ea4d46" text-anchor="start" textLength="48.4" lengthAdjust="spacingAndGlyphs">3,117.00</text><path d="M6.1 886.4H15V897.7H10.3V890.9H6.1z" fill="#d1d4dc"/><circle cx="19" cy="888.8" r="2.1" fill="#d1d4dc"/><path d="M23.2 886.4h5.3L24.5 897.7h-5.8z" fill="#d1d4dc"/><text x="34.1" y="897.7" font-size="15.8" font-weight="bold" fill="#d1d4dc" text-anchor="start" textLength="90.8" lengthAdjust="spacingAndGlyphs">TradingView</text>
</svg>
</body></html>
